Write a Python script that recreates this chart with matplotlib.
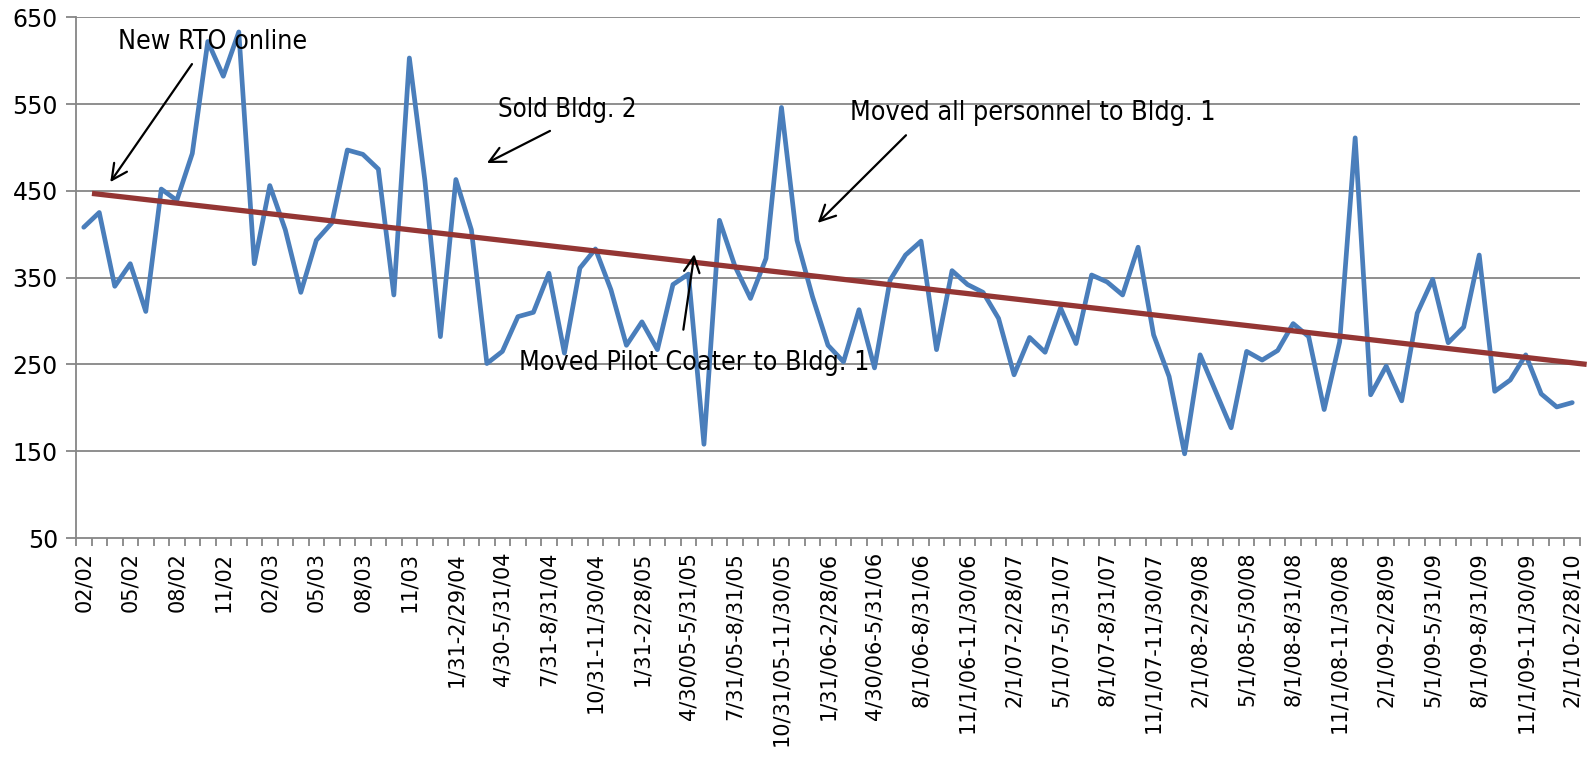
import matplotlib
matplotlib.use("Agg")
import matplotlib.pyplot as plt
from matplotlib import font_manager
from matplotlib.font_manager import FontProperties
from matplotlib.ticker import FixedLocator, NullFormatter

# Monthly values, Feb 2002 through Feb 2010
values = [
    408, 425, 340, 366, 311, 452, 439, 493, 622, 582,
    633, 366, 456, 405, 333, 393, 413, 497, 492, 475,
    330, 603, 462, 282, 463, 405, 251, 265, 305, 310,
    355, 263, 361, 383, 336, 272, 299, 267, 342, 354,
    158, 416, 363, 326, 372, 546, 393, 328, 272, 253,
    313, 246, 347, 376, 392, 267, 358, 342, 333, 303,
    238, 281, 264, 315, 274, 353, 345, 330, 385, 284,
    236, 147, 261, 219, 177, 265, 255, 266, 297, 282,
    198, 276, 511, 215, 248, 208, 309, 348, 275, 293,
    376, 219, 232, 261, 216, 201, 206,
]

# Period labels shown every third month
period_labels = [
    "02/02", "05/02", "08/02", "11/02", "02/03", "05/03", "08/03", "11/03",
    "1/31-2/29/04", "4/30-5/31/04", "7/31-8/31/04", "10/31-11/30/04",
    "1/31-2/28/05", "4/30/05-5/31/05", "7/31/05-8/31/05", "10/31/05-11/30/05",
    "1/31/06-2/28/06", "4/30/06-5/31/06", "8/1/06-8/31/06", "11/1/06-11/30/06",
    "2/1/07-2/28/07", "5/1/07-5/31/07", "8/1/07-8/31/07", "11/1/07-11/30/07",
    "2/1/08-2/29/08", "5/1/08-5/30/08", "8/1/08-8/31/08", "11/1/08-11/30/08",
    "2/1/09-2/28/09", "5/1/09-5/31/09", "8/1/09-8/31/09", "11/1/09-11/30/09",
    "2/1/10-2/28/10",
]
label_step = 3

# Hand-drawn downward trend line: (start, end) as (position, value)
trend_x = [0.53, 96.93]
trend_y = [447, 250]

# Event notes: text, text anchor, arrow tail, arrow head
notes = [
    ("New RTO online", (2.19, 613), (6.98, 596), (1.71, 460)),
    ("Sold Bldg. 2", (26.74, 535), (30.07, 519), (26.0, 482)),
    ("Moved Pilot Coater to Bldg. 1", (28.09, 243), (38.67, 290), (39.38, 377)),
    ("Moved all personnel to Bldg. 1", (49.42, 532), (53.03, 514), (47.34, 413)),
]
# Rendered width of each note, in pixels
note_widths = [190, 139, 351, 367]


def condensed_font():
    """Prefer a narrow sans face for the callout text."""
    wanted = ["LiberationSansNarrow-Regular", "DejaVuSansCondensed.ttf"]
    files = font_manager.findSystemFonts()
    for key in wanted:
        for f in files:
            if f.endswith(key) or key in f.split("/")[-1]:
                return FontProperties(fname=f)
    return FontProperties(family="Liberation Sans")


tick_font = "DejaVu Sans"

W, H, DPI = 1591, 768, 100
fig = plt.figure(figsize=(W / DPI, H / DPI), dpi=DPI)
left_px, right_px, top_px, bottom_px = 76, 1580, 17.2, 538
ax = fig.add_axes([left_px / W, 1 - bottom_px / H,
                   (right_px - left_px) / W, (bottom_px - top_px) / H])

grid_color = "#868686"
n = len(values)
xs = list(range(n))

ax.set_xlim(-0.5, n - 0.5)
ax.set_ylim(50, 650)
ax.set_yticks(range(50, 651, 100))
for yv in range(150, 651, 100):
    ax.axhline(yv, color=grid_color, lw=1.3, zorder=1)

ax.plot(xs, values, color="#4A7EBB", lw=3.4, solid_joinstyle="round",
        solid_capstyle="round", zorder=3)
ax.plot(trend_x, trend_y, color="#943634", lw=3.8, solid_capstyle="butt",
        zorder=4, clip_on=False)

# Axes styling
for side in ("top", "right"):
    ax.spines[side].set_visible(False)
for side in ("left", "bottom"):
    ax.spines[side].set_color(grid_color)
    ax.spines[side].set_linewidth(1.3)

label_pos = list(range(0, n, label_step))
ax.set_xticks(label_pos)
ax.set_xticklabels(period_labels, rotation=90, ha="center", va="top",
                   fontsize=15, family=tick_font)
ax.tick_params(axis="x", which="major", length=0, pad=10)
ax.xaxis.set_minor_locator(FixedLocator([i - 0.5 for i in range(n + 1)]))
ax.xaxis.set_minor_formatter(NullFormatter())
ax.tick_params(axis="x", which="minor", length=6, width=1.3, color=grid_color,
               direction="out")
ax.tick_params(axis="y", length=7, width=1.3, color=grid_color, pad=6,
               labelsize=17)
for lbl in ax.get_yticklabels():
    lbl.set_family(tick_font)

note_fp = condensed_font()
renderer = fig.canvas.get_renderer()
for (text, (tx, ty), (ax0, ay0), (hx, hy)), target in zip(notes, note_widths):
    t = ax.text(tx, ty, text, fontproperties=note_fp, fontsize=22,
                color="black", ha="left", va="baseline", zorder=6,
                clip_on=False)
    w = t.get_window_extent(renderer=renderer).width
    t.set_fontsize(22 * target / w)
    ax.annotate("", xy=(hx, hy), xytext=(ax0, ay0),
                arrowprops=dict(arrowstyle="->", color="black", lw=1.6,
                                mutation_scale=28, shrinkA=0, shrinkB=0),
                zorder=6)

fig.savefig("out.png", dpi=DPI)
